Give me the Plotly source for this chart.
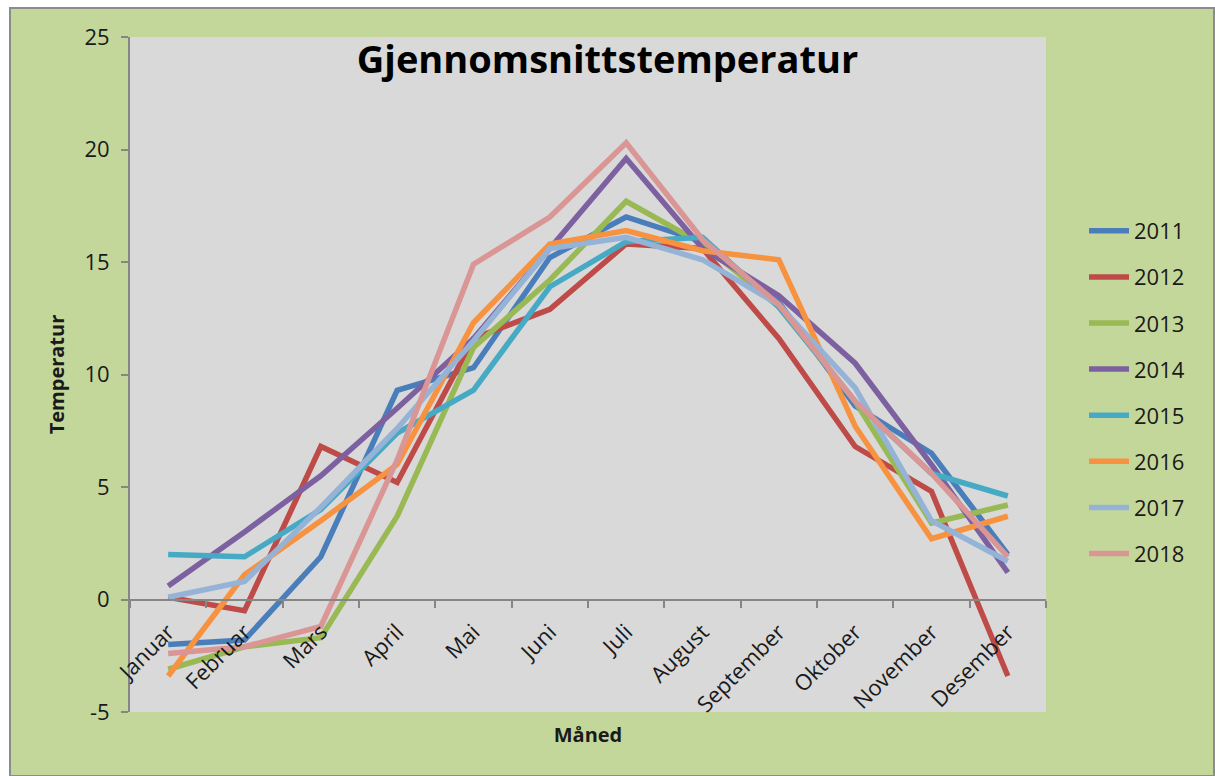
import plotly.graph_objects as go

months = ["Januar", "Februar", "Mars", "April", "Mai", "Juni", "Juli",
          "August", "September", "Oktober", "November", "Desember"]

years = ["2011", "2012", "2013", "2014", "2015", "2016", "2017", "2018"]

t2011 = [-2.0, -1.8, 1.9, 9.3, 10.3, 15.2, 17.0, 15.9, 13.2, 8.6, 6.5, 2.0]
t2012 = [0.1, -0.5, 6.8, 5.2, 11.6, 12.9, 15.8, 15.6, 11.6, 6.8, 4.8, -3.4]
t2013 = [-3.1, -2.1, -1.7, 3.7, 11.2, 14.2, 17.7, 15.8, 13.0, 8.8, 3.4, 4.2]
t2014 = [0.6, 3.0, 5.5, 8.5, 11.6, 15.6, 19.6, 15.6, 13.5, 10.5, 6.0, 1.2]
t2015 = [2.0, 1.9, 4.0, 7.4, 9.3, 13.9, 15.9, 16.1, 13.0, 8.8, 5.6, 4.6]
t2016 = [-3.4, 1.1, 3.5, 6.0, 12.3, 15.8, 16.4, 15.5, 15.1, 7.7, 2.7, 3.7]
t2017 = [0.1, 0.8, 4.1, 7.6, 11.5, 15.6, 16.1, 15.1, 13.1, 9.4, 3.5, 1.7]
t2018 = [-2.4, -2.1, -1.2, 6.2, 14.9, 17.0, 20.3, 16.0, 13.1, 8.8, 5.6, 1.9]

series = [t2011, t2012, t2013, t2014, t2015, t2016, t2017, t2018]
colors = ["#4A7EBB", "#BE4B48", "#98B954", "#7D60A0",
          "#46AAC5", "#F69240", "#95B3D7", "#D99694"]

y_range = [-5, 25]
y_ticks = [-5, 0, 5, 10, 15, 20, 25]
y_ticklabels = ["-5", "0", "5", "10", "15", "20", "25"]

FONT = "Open Sans"
W, H = 1215, 776
L, R, T, B = 130, 169, 37, 64
pw, ph = W - L - R, H - T - B

fig = go.Figure()
for name, vals, col in zip(years, series, colors):
    fig.add_trace(go.Scatter(
        x=months, y=vals, name=name, mode="lines",
        line=dict(color=col, width=5.5), legendgroup=name,
    ))

def px_x(p):
    return (p - L) / pw

def px_y(p):
    return (H - B - p) / ph

fig.update_layout(
    width=W, height=H,
    margin=dict(l=L, r=R, t=T, b=B),
    paper_bgcolor="white",
    plot_bgcolor="#D9D9D9",
    font=dict(family=FONT, size=22, color="#1A1A1A"),
    title=dict(text="<b>Gjennomsnittstemperatur</b>", x=0.5, xanchor="center",
               y=1 - 60 / H, yanchor="middle",
               font=dict(family=FONT, size=38, color="black")),
    showlegend=True,
    legend=dict(x=px_x(1084), xanchor="left", y=px_y(210), yanchor="top",
                bgcolor="rgba(0,0,0,0)", font=dict(size=22),
                tracegroupgap=14.5, itemwidth=40),
    shapes=[
        dict(type="rect", xref="paper", yref="paper",
             x0=px_x(10), x1=px_x(1214), y0=px_y(776), y1=px_y(8),
             fillcolor="#C4D79B", line=dict(color="#8C8C8C", width=2),
             layer="below"),
        dict(type="rect", xref="paper", yref="paper",
             x0=0, x1=1, y0=0, y1=1,
             fillcolor="#D9D9D9", line=dict(width=0), layer="below"),
    ],
)

fig.update_xaxes(
    type="category", range=[-0.5, len(months) - 0.5], anchor="free",
    position=(0 - y_range[0]) / (y_range[1] - y_range[0]),
    showline=True, linecolor="#868686", linewidth=2,
    ticks="outside", tickson="boundaries", ticklen=7, tickcolor="#868686",
    tickwidth=2, tickangle=-45, showgrid=False, zeroline=False,
    tickfont=dict(size=22), automargin=False, ticklabelstandoff=10,
    title=dict(text="<b>Måned</b>", font=dict(size=20), standoff=10),
)
fig.update_yaxes(
    range=y_range, tickmode="array", tickvals=y_ticks, ticktext=y_ticklabels,
    showline=True, linecolor="#868686", linewidth=2,
    ticks="outside", ticklen=7, tickcolor="#868686", tickwidth=2,
    showgrid=False, zeroline=False, automargin=False, ticklabelstandoff=7,
    title=dict(text="<b>Temperatur</b>", font=dict(size=20), standoff=14),
)

fig.write_html("out.html", config={"displayModeBar": False},
               post_script="document.body.style.margin='0px';")
